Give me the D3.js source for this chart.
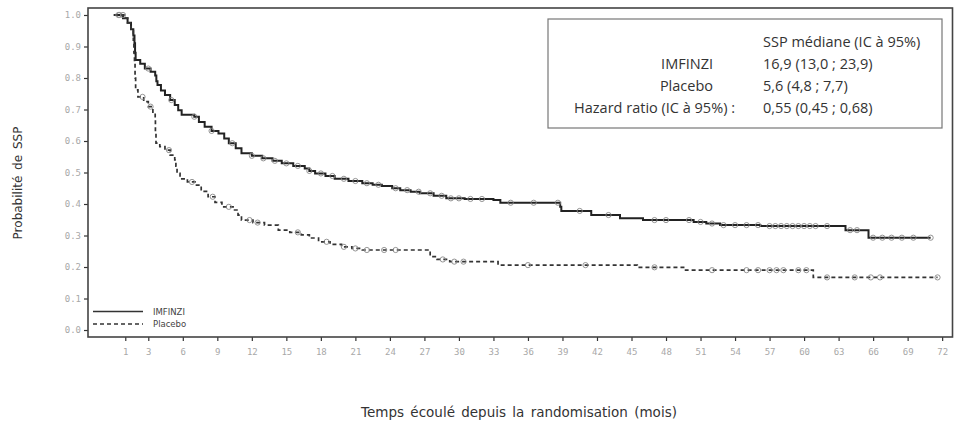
<!DOCTYPE html>
<html>
<head>
<meta charset="utf-8">
<script src="https://cdn.jsdelivr.net/npm/d3@7.9.0/dist/d3.min.js"></script>
<style>
  body { margin: 0; background: #fff; }
  svg { display: block; }
</style>
</head>
<body>
<svg id="chart" width="957" height="429"></svg>
<script>
// Kaplan-Meier step points (time in months, survival probability)
const imfinziTime = [0, 0.8, 1.2, 1.5, 1.7, 1.8, 1.85, 1.9, 2.3, 2.7, 3.2, 3.6, 3.7, 3.8, 4.1, 4.45, 4.9, 5.3, 5.6, 5.9, 7.0, 7.4, 7.9, 8.5, 9.1, 9.6, 10.0, 10.6, 11.1, 12.0, 12.9, 13.8, 14.6, 15.6, 16.6, 17.0, 17.5, 18.4, 19.2, 20.4, 21.6, 22.5, 23.3, 24.2, 24.9, 25.8, 26.6, 27.8, 28.9, 30.5, 33.0, 33.6, 38.8, 38.9, 41.5, 44.0, 46.0, 50.4, 51.5, 52.7, 56.2, 63.6, 65.6, 71.0];
const imfinziSurv = [1.0, 0.99, 0.975, 0.955, 0.935, 0.91, 0.88, 0.857, 0.845, 0.83, 0.82, 0.808, 0.79, 0.778, 0.76, 0.746, 0.73, 0.714, 0.698, 0.683, 0.677, 0.66, 0.645, 0.632, 0.624, 0.608, 0.593, 0.577, 0.561, 0.553, 0.545, 0.537, 0.529, 0.521, 0.513, 0.505, 0.497, 0.489, 0.48, 0.473, 0.466, 0.461, 0.457, 0.45, 0.444, 0.439, 0.434, 0.426, 0.418, 0.416, 0.413, 0.404, 0.391, 0.378, 0.365, 0.355, 0.349, 0.343, 0.338, 0.333, 0.33, 0.317, 0.293, 0.293];
const imfinziCensor = [0.5, 3, 5, 7, 8.5, 10.3, 12, 13, 14, 15, 16, 17, 18, 19, 20, 21, 22, 23, 24.5, 25.5, 26.5, 27.5, 28.5, 29.3, 30, 31, 32, 34.5, 36.5, 38.6, 40.5, 43, 47, 48, 50, 51, 52, 53, 54, 55, 56, 57, 57.5, 58, 58.5, 59, 59.5, 60, 60.5, 61, 62, 64, 64.6, 66, 66.8, 67.6, 68.5, 69.5, 71];

const placeboTime = [0, 0.9, 1.2, 1.5, 1.7, 1.75, 1.8, 1.85, 1.9, 2.1, 2.6, 3.0, 3.4, 3.6, 3.62, 3.67, 4.0, 4.45, 4.9, 5.3, 5.4, 5.5, 5.76, 6.4, 7.06, 7.6, 8.2, 8.8, 9.4, 10.5, 10.8, 11.1, 12.1, 13.1, 14.3, 15.3, 16.3, 17.0, 17.8, 18.8, 19.8, 20.7, 21.6, 27.5, 28.1, 29.2, 33.4, 45.5, 49.7, 60.8, 71.6];
const placeboSurv = [1.0, 0.99, 0.975, 0.95, 0.92, 0.88, 0.847, 0.8, 0.762, 0.74, 0.725, 0.709, 0.688, 0.667, 0.63, 0.593, 0.582, 0.571, 0.555, 0.54, 0.52, 0.497, 0.48, 0.47, 0.46, 0.44, 0.423, 0.405, 0.391, 0.381, 0.365, 0.349, 0.341, 0.333, 0.317, 0.31, 0.302, 0.292, 0.28, 0.272, 0.264, 0.259, 0.254, 0.233, 0.224, 0.217, 0.206, 0.199, 0.19, 0.167, 0.167];
const placeboCensor = [0.4, 0.8, 2.5, 3.2, 4.8, 6.8, 8.6, 10, 11.8, 12.5, 16, 18.5, 20, 21, 22, 23.5, 24.5, 28.6, 29.6, 30.4, 36, 41, 47, 52, 55, 56, 57, 57.6, 58.2, 59.5, 60.2, 62, 64.4, 65.8, 66.6, 71.6];

const xTicks = [1, 3, 6, 9, 12, 15, 18, 21, 24, 27, 30, 33, 36, 39, 42, 45, 48, 51, 54, 57, 60, 63, 66, 69, 72];
const yTicks = [0, 0.1, 0.2, 0.3, 0.4, 0.5, 0.6, 0.7, 0.8, 0.9, 1.0];

const statHeader = 'SSP médiane (IC à 95%)';
const statLabels = ['IMFINZI', 'Placebo', 'Hazard ratio (IC à 95%) :'];
const statValues = ['16,9 (13,0 ; 23,9)', '5,6 (4,8 ; 7,7)', '0,55 (0,45 ; 0,68)'];

const svg = d3.select('#chart');

const x = d3.scaleLinear().domain([-2.24, 72.9]).range([88, 952.5]);
const y = d3.scaleLinear().domain([-0.0222, 1.0222]).range([337, 8]);

// axes
const xAxis = d3.axisBottom(x).tickValues(xTicks).tickSize(4).tickFormat(d3.format('d'));
const yAxis = d3.axisLeft(y).tickValues(yTicks).tickSize(4).tickFormat(d3.format('.1f'));

const gx = svg.append('g').attr('transform', 'translate(0,337)').call(xAxis);
const gy = svg.append('g').attr('transform', 'translate(88,0)').call(yAxis);
[gx, gy].forEach(g => {
  g.select('.domain').remove();
  g.selectAll('.tick line').attr('stroke', '#333').attr('stroke-width', 1.2);
  g.selectAll('.tick text')
    .attr('fill', '#a8a8a8')
    .style('font-family', '"DejaVu Sans Mono", monospace')
    .style('font-size', '9px');
});
gx.selectAll('.tick text').attr('dy', '1.2em');

// frame
svg.append('rect')
  .attr('x', 88).attr('y', 8)
  .attr('width', 952.5 - 88).attr('height', 337 - 8)
  .attr('fill', 'none').attr('stroke', '#444').attr('stroke-width', 1.6);

// curves
const line = d3.line()
  .x((d) => x(d[0]))
  .y((d) => y(d[1]))
  .curve(d3.curveStepAfter);

function survAt(times, surv, t) {
  let i = d3.bisectRight(times, t) - 1;
  return surv[Math.max(0, i)];
}

function drawGroup(times, surv, censor, dash, width, color) {
  let pts = times.map((t, i) => [t, surv[i]]);
  svg.append('path')
    .attr('d', line(pts))
    .attr('fill', 'none')
    .attr('stroke', color)
    .attr('stroke-width', width)
    .attr('stroke-dasharray', dash);
  svg.append('g').selectAll('circle')
    .data(censor)
    .join('circle')
    .attr('cx', (d) => x(d))
    .attr('cy', (d) => y(survAt(times, surv, d)))
    .attr('r', 2.6)
    .attr('fill', 'none')
    .attr('stroke', '#888')
    .attr('stroke-width', 0.9);
}

drawGroup(imfinziTime, imfinziSurv, imfinziCensor, null, 2, '#222');
drawGroup(placeboTime, placeboSurv, placeboCensor, '4,3', 1.7, '#333');

// legend
const legend = [['IMFINZI', null, 311.5], ['Placebo', '4,3', 324]];
legend.forEach(([label, dash, ly]) => {
  svg.append('line')
    .attr('x1', 93).attr('x2', 143).attr('y1', ly).attr('y2', ly)
    .attr('stroke', '#333').attr('stroke-width', 1.6)
    .attr('stroke-dasharray', dash);
  svg.append('text')
    .attr('x', 153).attr('y', ly + 3)
    .style('font-family', '"DejaVu Sans", sans-serif')
    .style('font-size', '8.5px')
    .attr('fill', '#444')
    .text(label);
});

// stats box
svg.append('rect')
  .attr('x', 548).attr('y', 19).attr('width', 394).attr('height', 109)
  .attr('fill', '#fff').attr('stroke', '#777').attr('stroke-width', 1.2);

const boxFont = '"Open Sans", sans-serif';
svg.append('text')
  .attr('x', 763).attr('y', 47)
  .style('font-family', boxFont).style('font-size', '14.5px')
  .attr('fill', '#333')
  .text(statHeader);
statLabels.forEach((lab, i) => {
  let ty = 69 + i * 22;
  svg.append('text')
    .attr('x', i === 2 ? 735 : 713).attr('y', ty)
    .attr('text-anchor', 'end')
    .style('font-family', boxFont).style('font-size', '14.5px')
    .attr('fill', '#333')
    .text(lab);
  svg.append('text')
    .attr('x', 763).attr('y', ty)
    .style('font-family', boxFont).style('font-size', '14.5px')
    .attr('fill', '#333')
    .text(statValues[i]);
});

// axis titles
svg.append('text')
  .attr('transform', 'translate(22,183) rotate(-90)')
  .attr('text-anchor', 'middle')
  .style('font-family', '"DejaVu Sans", sans-serif')
  .style('font-size', '12px')
  .style('word-spacing', '2px')
  .attr('fill', '#333')
  .text('Probabilité de SSP');

svg.append('text')
  .attr('x', 519).attr('y', 417)
  .attr('text-anchor', 'middle')
  .style('font-family', '"DejaVu Sans", sans-serif')
  .style('font-size', '13.5px')
  .style('word-spacing', '2px')
  .attr('fill', '#333')
  .text('Temps écoulé depuis la randomisation (mois)');
</script>
</body>
</html>
